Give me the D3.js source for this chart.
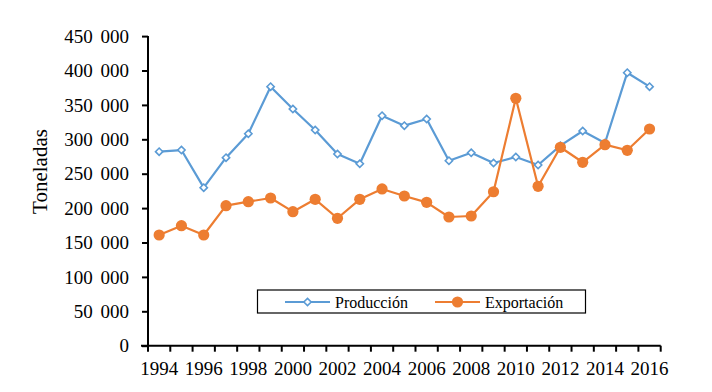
<!DOCTYPE html>
<html><head><meta charset="utf-8">
<script src="https://cdn.jsdelivr.net/npm/d3@7"></script>
<style>
html,body{margin:0;padding:0;background:#fff;}
svg{display:block;}
svg text{font-family:"Liberation Serif","Times New Roman",serif;}
</style></head>
<body><svg id="chart" width="712" height="392"></svg>
<script>
const years = ["1994","1995","1996","1997","1998","1999","2000","2001","2002","2003","2004","2005","2006","2007","2008","2009","2010","2011","2012","2013","2014","2015","2016"];
const produccion = [282000,284400,229700,273300,308100,376500,344000,313500,278600,264500,334300,319800,329500,268900,280500,265600,274300,262600,290700,312100,294600,396800,376500];
const exportacion = [160900,174400,160900,203500,209300,214700,194800,212800,185200,212800,227800,217600,208400,187100,188500,223800,359600,231700,288400,266600,292200,284000,315000];
const yTicks = [0,50000,100000,150000,200000,250000,300000,350000,400000,450000];
const xLabels = ["1994","1996","1998","2000","2002","2004","2006","2008","2010","2012","2014","2016"];
const seriesNames = ["Producción","Exportación"];
const colors = ["#5B9BD5","#ED7D31"];

const svg = d3.select("#chart");
const L = 148, R = 660.7, T = 36.1, B = 345.7;
const x = d3.scaleBand().domain(years).range([L, R]).paddingInner(0).paddingOuter(0);
const y = d3.scaleLinear().domain([0, 450000]).range([B, T]);
const fmt = v => d3.format(",")(v).replace(/,/g, " ");

// Y axis
const yAxis = svg.append("g").attr("transform", `translate(${L},0)`)
  .call(d3.axisLeft(y).tickValues(yTicks).tickSize(6).tickPadding(13).tickFormat(fmt))
  .attr("font-family", null).attr("font-size", null);
yAxis.select(".domain").attr("stroke", "#000").attr("stroke-width", 2).attr("d", `M0,${B}V${T}`);
yAxis.selectAll(".tick line").attr("stroke", "#000").attr("stroke-width", 2);
yAxis.selectAll(".tick text").attr("fill", "#000").style("font-size", "19px")
  .style("word-spacing", "3px").attr("dy", "0.33em");

// X axis
const xAxis = svg.append("g").attr("transform", `translate(0,${B})`)
  .call(d3.axisBottom(x).tickValues([]).tickSizeOuter(0))
  .attr("font-family", null).attr("font-size", null);
xAxis.select(".domain").attr("stroke", "#000").attr("stroke-width", 2).attr("d", `M${L - 7},0H${R}`);
const edges = years.map(d => x(d)).concat([R]);
xAxis.selectAll(".edge").data(edges).enter().append("line").attr("class", "edge")
  .attr("x1", d => d).attr("x2", d => d).attr("y1", 0).attr("y2", 6)
  .attr("stroke", "#000").attr("stroke-width", 2);
xAxis.selectAll(".xl").data(xLabels).enter().append("text").attr("class", "xl")
  .attr("x", d => x(d) + x.bandwidth() / 2).attr("y", 29)
  .attr("text-anchor", "middle").attr("fill", "#000").style("font-size", "19px").text(d => d);

// Y label
svg.append("text").attr("transform", "translate(47,171.5) rotate(-90)")
  .attr("text-anchor", "middle").style("font-size", "21px").attr("fill", "#000").text("Toneladas");

const cx = d => x(d) + x.bandwidth() / 2;
const line = d3.line().x((d, i) => cx(years[i])).y(d => y(d));

// Production
svg.append("path").datum(produccion).attr("d", line).attr("fill", "none")
  .attr("stroke", colors[0]).attr("stroke-width", 2.2).attr("stroke-linejoin", "round");
const diamond = d3.symbol().type(d3.symbolDiamond2 || d3.symbolDiamond).size(34);
svg.selectAll(".pm").data(produccion).enter().append("path").attr("class", "pm")
  .attr("d", diamond).attr("transform", (d, i) => `translate(${cx(years[i])},${y(d)})`)
  .attr("fill", "#fff").attr("stroke", colors[0]).attr("stroke-width", 1.6);

// Export
svg.append("path").datum(exportacion).attr("d", line).attr("fill", "none")
  .attr("stroke", colors[1]).attr("stroke-width", 2.2).attr("stroke-linejoin", "round");
svg.selectAll(".em").data(exportacion).enter().append("circle").attr("class", "em")
  .attr("cx", (d, i) => cx(years[i])).attr("cy", d => y(d)).attr("r", 5.6)
  .attr("fill", colors[1]);

// Legend
const lg = svg.append("g");
lg.append("rect").attr("x", 257.5).attr("y", 290).attr("width", 328).attr("height", 23)
  .attr("fill", "#fff").attr("stroke", "#000").attr("stroke-width", 1.2);
const items = [{x0: 285, name: seriesNames[0], c: colors[0], t: "d"}, {x0: 435, name: seriesNames[1], c: colors[1], t: "c"}];
items.forEach(it => {
  const cy = 302;
  lg.append("line").attr("x1", it.x0).attr("x2", it.x0 + 45).attr("y1", cy).attr("y2", cy)
    .attr("stroke", it.c).attr("stroke-width", 2.2);
  if (it.t === "d") {
    lg.append("path").attr("d", diamond).attr("transform", `translate(${it.x0 + 22.5},${cy})`)
      .attr("fill", "#fff").attr("stroke", it.c).attr("stroke-width", 1.6);
  } else {
    lg.append("circle").attr("cx", it.x0 + 22.5).attr("cy", cy).attr("r", 5.6).attr("fill", it.c);
  }
  lg.append("text").attr("x", it.x0 + 50).attr("y", cy + 5.5).style("font-size", "16px")
    .attr("fill", "#000").text(it.name);
});
</script></body></html>
